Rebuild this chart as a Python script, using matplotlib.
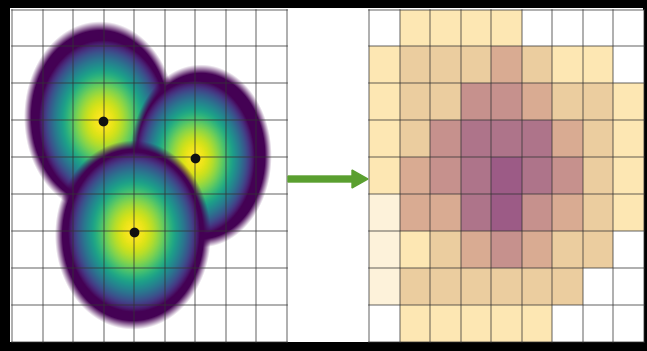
import numpy as np
import matplotlib.pyplot as plt
from matplotlib.colors import ListedColormap, BoundaryNorm
from matplotlib.patches import Rectangle, FancyArrow

# left panel: three kernel-density blobs (pixel units)
blob_cx = [100, 201, 133]
blob_cy = [117, 156, 235]
blob_rx = [73, 68, 75]
blob_ry = [92, 88, 91]
point_x = [103, 195, 134]
point_y = [121, 158, 232]

# right panel: aggregated density level per cell (0 = empty)
cell_levels = [
    [0, 2, 2, 2, 2, 0, 0, 0, 0],
    [2, 3, 3, 3, 4, 3, 2, 2, 0],
    [2, 3, 3, 5, 5, 4, 3, 3, 2],
    [2, 3, 5, 6, 6, 6, 4, 3, 2],
    [2, 4, 5, 6, 7, 6, 5, 3, 2],
    [1, 4, 4, 6, 7, 5, 4, 3, 2],
    [1, 2, 3, 4, 5, 4, 3, 3, 0],
    [1, 3, 3, 3, 3, 3, 3, 0, 0],
    [0, 2, 2, 2, 2, 2, 0, 0, 0],
]
level_colors = ["#ffffff", "#fdf2da", "#fde7b3", "#ebcd9f", "#d9ab92",
                "#c6918d", "#ae748a", "#9c5b86"]

W, H = 647, 351
fig = plt.figure(figsize=(W / 100, H / 100), dpi=100, facecolor="black")
ax = fig.add_axes([0, 0, 1, 1])
ax.set_xlim(0, W)
ax.set_ylim(H, 0)
ax.axis("off")

ax.add_patch(Rectangle((10, 8), 633, 334, facecolor="white", edgecolor="none", zorder=0))

# --- left panel: blobs composited over white
x0, x1, y0, y1 = 12, 287, 9, 342
xs = np.arange(x0, x1) + 0.5
ys = np.arange(y0, y1) + 0.5
gx, gy = np.meshgrid(xs, ys)
rgb = np.ones((len(ys), len(xs), 3))
cmap = plt.get_cmap("viridis")
for cx, cy, rx, ry, px, py in zip(blob_cx, blob_cy, blob_rx, blob_ry, point_x, point_y):
    r_edge = np.sqrt(((gx - cx) / rx) ** 2 + ((gy - cy) / ry) ** 2)
    r_col = np.sqrt(((gx - px) / rx) ** 2 + ((gy - py) / ry) ** 2)
    val = np.clip(1 - (r_col / 0.88) ** 1.8, 0, 1)
    col = cmap(val)[..., :3]
    a = np.clip((1.04 - r_edge) / 0.1, 0, 1)[..., None]
    rgb = rgb * (1 - a) + col * a
ax.imshow(rgb, extent=(x0, x1, y1, y0), origin="upper", interpolation="bilinear", zorder=1)

lx = np.linspace(x0, x1, 10)
ly = np.linspace(9.5, 342, 10)
for x in lx:
    ax.plot([x, x], [ly[0], ly[-1]], color="#333333", alpha=0.5, lw=1.1, zorder=2)
for y in ly:
    ax.plot([lx[0], lx[-1]], [y, y], color="#333333", alpha=0.5, lw=1.1, zorder=2)
ax.scatter(point_x, point_y, s=36, color="#111111", zorder=3)

# --- right panel: gridded density
rx_edges = np.linspace(369, 644, 10)
ry_edges = np.linspace(9.5, 342, 10)
norm = BoundaryNorm(np.arange(-0.5, len(level_colors)), len(level_colors))
ax.pcolormesh(rx_edges, ry_edges, np.array(cell_levels),
              cmap=ListedColormap(level_colors), norm=norm, zorder=1)
for x in rx_edges:
    ax.plot([x, x], [ry_edges[0], ry_edges[-1]], color="#333333", alpha=0.5, lw=1.1, zorder=2)
for y in ry_edges:
    ax.plot([rx_edges[0], rx_edges[-1]], [y, y], color="#333333", alpha=0.5, lw=1.1, zorder=2)

# --- arrow between panels
ax.add_patch(FancyArrow(288, 179, 80, 0, width=6, head_width=18, head_length=16,
                        length_includes_head=True, color="#5a9f2f", zorder=4))

fig.savefig("out.png", dpi=100, facecolor="black")
